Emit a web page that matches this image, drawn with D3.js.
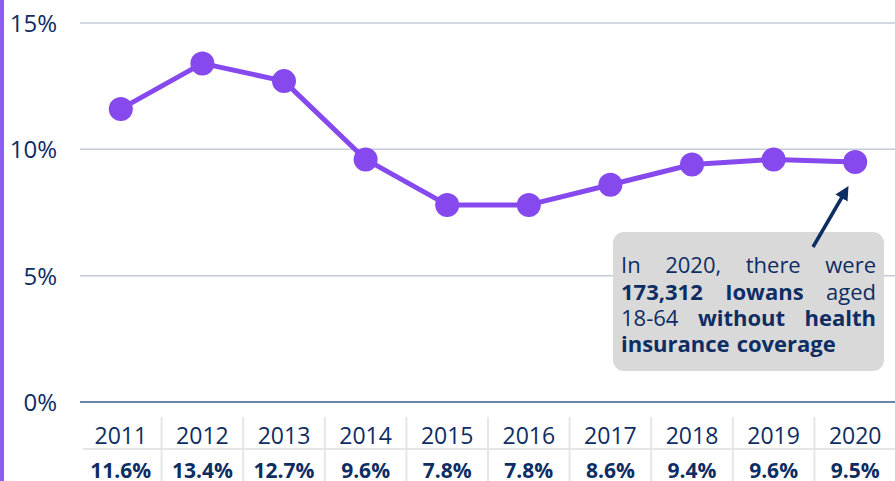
<!DOCTYPE html>
<html>
<head>
<meta charset="utf-8">
<script src="https://cdn.jsdelivr.net/npm/d3@7"></script>
<style>
  html, body { margin: 0; padding: 0; background: #fff; }
  svg { display: block; font-family: "Open Sans", sans-serif; }
</style>
</head>
<body>
<div id="chart"></div>
<script>
// Uninsured rate, Iowans aged 18-64
const years = ['2011', '2012', '2013', '2014', '2015', '2016', '2017', '2018', '2019', '2020'];
const rates = [11.6, 13.4, 12.7, 9.6, 7.8, 7.8, 8.6, 9.4, 9.6, 9.5];
const yTicks = [0, 5, 10, 15];
const noteLines = [
    [{ t: 'In', b: false }, { t: '2020,', b: false }, { t: 'there', b: false }, { t: 'were', b: false }],
    [{ t: '173,312', b: true }, { t: 'Iowans', b: true }, { t: 'aged', b: false }],
    [{ t: '18-64', b: false }, { t: 'without', b: true }, { t: 'health', b: true }],
    [{ t: 'insurance', b: true }, { t: 'coverage', b: true }]
];

const width = 895, height = 481;
const navy = '#0e2d63';
const purple = '#8549ee';

const svg = d3.select('#chart').append('svg')
    .attr('width', width)
    .attr('height', height);

const x = d3.scaleBand().domain(years).range([80, 896]).padding(0);
const y = d3.scaleLinear().domain([0, 15]).range([402, 23]);
const cx = d => x(d) + x.bandwidth() / 2;

// left accent bar
svg.append('rect')
    .attr('x', 0).attr('y', 0)
    .attr('width', 4).attr('height', height)
    .attr('fill', '#8f5bf5');

// gridlines
svg.append('g')
    .selectAll('line')
    .data(yTicks)
    .join('line')
    .attr('x1', 80).attr('x2', width)
    .attr('y1', d => y(d)).attr('y2', d => y(d))
    .attr('stroke', d => d === 0 ? '#6b82a3' : '#c3ccd7')
    .attr('stroke-width', d => d === 0 ? 2 : 1.5);

// y labels
svg.append('g')
    .selectAll('text')
    .data(yTicks)
    .join('text')
    .attr('x', 57)
    .attr('y', d => y(d) + 9)
    .attr('text-anchor', 'end')
    .attr('fill', navy)
    .attr('font-size', 24)
    .text(d => d + '%');

// table below the axis
const table = svg.append('g');
table.append('line')
    .attr('x1', 83).attr('x2', width)
    .attr('y1', 449).attr('y2', 449)
    .attr('stroke', '#e6e6e6').attr('stroke-width', 2);
table.selectAll('line.sep')
    .data(years.slice(1))
    .join('line')
    .attr('class', 'sep')
    .attr('x1', d => x(d)).attr('x2', d => x(d))
    .attr('y1', 417).attr('y2', height)
    .attr('stroke', '#e6e6e6').attr('stroke-width', 2);
table.selectAll('text.year')
    .data(years)
    .join('text')
    .attr('class', 'year')
    .attr('x', cx)
    .attr('y', 444)
    .attr('text-anchor', 'middle')
    .attr('fill', navy)
    .attr('font-size', 23)
    .text(d => d);
table.selectAll('text.val')
    .data(rates)
    .join('text')
    .attr('class', 'val')
    .attr('x', (d, i) => cx(years[i]))
    .attr('y', 478)
    .attr('text-anchor', 'middle')
    .attr('fill', navy)
    .attr('font-size', 21)
    .attr('font-weight', 700)
    .text(d => d.toFixed(1) + '%');

// line + points
const line = d3.line()
    .x((d, i) => cx(years[i]))
    .y(d => y(d));

svg.append('path')
    .datum(rates)
    .attr('d', line)
    .attr('fill', 'none')
    .attr('stroke', purple)
    .attr('stroke-width', 5)
    .attr('stroke-linejoin', 'round');

svg.append('g')
    .selectAll('circle')
    .data(rates)
    .join('circle')
    .attr('cx', (d, i) => cx(years[i]))
    .attr('cy', d => y(d))
    .attr('r', 12)
    .attr('fill', purple);

// annotation box
const note = svg.append('g');
note.append('rect')
    .attr('x', 613).attr('y', 232)
    .attr('width', 271).attr('height', 139)
    .attr('rx', 11)
    .attr('fill', '#d9d9d9');

const left = 621, right = 876;
const baselines = [273, 300, 326, 352];
noteLines.forEach((words, li) => {
    const nodes = words.map(w => note.append('text')
        .attr('y', baselines[li])
        .attr('fill', navy)
        .attr('font-size', 22)
        .attr('font-weight', w.b ? 700 : 400)
        .text(w.t));
    const widths = nodes.map(n => n.node().getComputedTextLength());
    const total = d3.sum(widths);
    const last = li === noteLines.length - 1;
    const gap = last ? 7 : (right - left - total) / (words.length - 1);
    let pos = left;
    nodes.forEach((n, i) => {
        n.attr('x', pos);
        pos += widths[i] + gap;
    });
});

// arrow to the 2020 point
svg.append('defs').append('marker')
    .attr('id', 'head')
    .attr('viewBox', '0 0 10 10')
    .attr('refX', 5).attr('refY', 5)
    .attr('markerWidth', 4).attr('markerHeight', 4)
    .attr('orient', 'auto')
    .append('path')
    .attr('d', 'M0,0 L10,5 L0,10 z')
    .attr('fill', navy);

svg.append('line')
    .attr('x1', 813).attr('y1', 247)
    .attr('x2', 845).attr('y2', 192)
    .attr('stroke', navy)
    .attr('stroke-width', 3.5)
    .attr('marker-end', 'url(#head)');
</script>
</body>
</html>
